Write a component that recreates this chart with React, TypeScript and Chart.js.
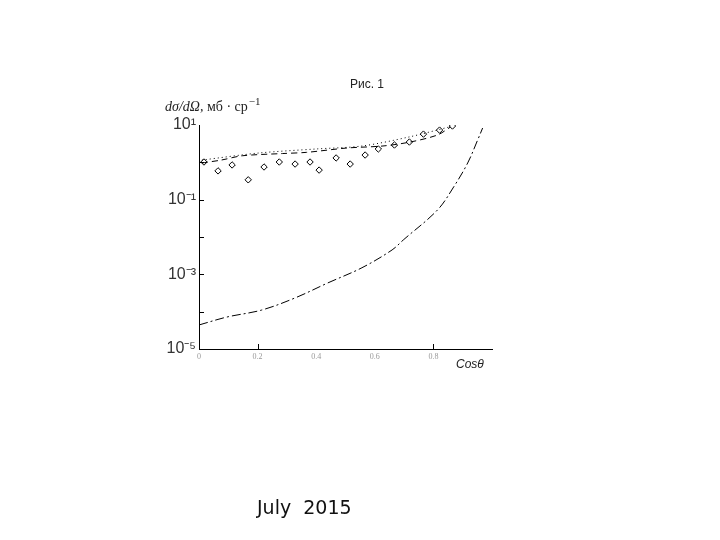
import React, { useEffect, useRef } from "react";
import { Chart, registerables } from "chart.js";

Chart.register(...registerables);

// Lower dash-dot curve
const lowerX = [0, 0.096, 0.213, 0.326, 0.44, 0.556, 0.659, 0.697, 0.814, 0.869, 0.917, 0.951, 0.968];
const lowerY = [4.4e-5, 7.2e-5, 1.1e-4, 2.3e-4, 5.9e-4, 1.5e-3, 4.5e-3, 8.3e-3, 0.053, 0.218, 0.96, 3.96, 8.3];

// Upper dotted curve
const dottedX = [0.01, 0.205, 0.4, 0.557, 0.718, 0.855];
const dottedY = [1.15, 1.78, 2.28, 2.74, 4.8, 8.9];

// Upper dashed curve
const dashedX = [0.01, 0.076, 0.148, 0.285, 0.367, 0.505, 0.628, 0.721, 0.814, 0.858];
const dashedY = [0.96, 1.15, 1.5, 1.72, 1.85, 2.42, 2.74, 3.5, 5.4, 8.8];

// Experimental points (diamonds)
const expX = [0.017, 0.065, 0.113, 0.168, 0.222, 0.274, 0.328, 0.379, 0.41, 0.468, 0.516, 0.567, 0.612, 0.667, 0.718, 0.766, 0.821, 0.865];
const expY = [1.02, 0.59, 0.85, 0.34, 0.75, 1.02, 0.9, 1.02, 0.62, 1.31, 0.9, 1.57, 2.28, 2.91, 3.5, 5.7, 7.3, 9.4];

const xTicks = [0, 0.2, 0.4, 0.6, 0.8];
const xTickLabels = ["0", "0.2", "0.4", "0.6", "0.8"];
const yExponents = [-5, -4, -3, -2, -1, 0, 1];
const yLabelExponents = [-5, -3, -1, 1];
const xMarkTicks = [0.2, 0.8];
const yMarkExponents = [-4, -3, -2, -1, 0];

const supMap: Record<string, string> = { "-": "⁻", "0": "⁰", "1": "¹", "2": "²", "3": "³", "4": "⁴", "5": "⁵" };
const sup = (n: number) => String(n).split("").map((c) => supMap[c] || c).join("");

const zip = (xs: number[], ys: number[]) => xs.map((x, i) => ({ x, y: ys[i] }));

const textPlugin = {
  id: "texts",
  afterDraw(chart: any) {
    const ctx = chart.ctx as CanvasRenderingContext2D;
    const xs = chart.scales.x;
    const ys = chart.scales.y;
    ctx.save();
    // tick marks inside
    ctx.strokeStyle = "#000";
    ctx.lineWidth = 1;
    ctx.beginPath();
    yMarkExponents.forEach((e) => {
      const py = Math.round(ys.getPixelForValue(Math.pow(10, e))) + 0.5;
      ctx.moveTo(xs.left, py);
      ctx.lineTo(xs.left + 5, py);
    });
    xMarkTicks.forEach((v) => {
      const px = Math.round(xs.getPixelForValue(v)) + 0.5;
      ctx.moveTo(px, ys.bottom);
      ctx.lineTo(px, ys.bottom - 5);
    });
    ctx.stroke();

    ctx.fillStyle = "#222";
    ctx.textBaseline = "alphabetic";
    // title
    ctx.font = "12px 'Liberation Sans'";
    ctx.textAlign = "center";
    ctx.fillText("Рис. 1", 367, 88);

    // y label
    ctx.textAlign = "left";
    let x = 165;
    ctx.font = "italic 14px 'Liberation Serif'";
    const p1 = "dσ/dΩ,";
    ctx.fillText(p1, x, 111);
    x += ctx.measureText(p1).width;
    ctx.font = "14px 'Liberation Serif'";
    const p2 = " мб · ср";
    ctx.fillText(p2, x, 111);
    x += ctx.measureText(p2).width;
    ctx.font = "11px 'Liberation Serif'";
    ctx.fillText("−1", x + 1, 105);

    // x axis title
    ctx.font = "italic 12px 'Liberation Sans'";
    ctx.fillText("Cosθ", 456, 368);

    // footer
    ctx.font = "19px 'DejaVu Sans'";
    ctx.fillStyle = "#111";
    ctx.fillText("July  2015", 257, 514);
    ctx.restore();
  },
};

export default function App() {
  const ref = useRef<HTMLCanvasElement | null>(null);
  useEffect(() => {
    if (!ref.current) return;
    const chart = new Chart(ref.current, {
      type: "scatter",
      data: {
        datasets: [
          {
            label: "lower",
            type: "line",
            data: zip(lowerX, lowerY),
            borderColor: "#000",
            borderWidth: 1,
            borderDash: [9, 3, 2, 3],
            pointRadius: 0,
            tension: 0.35,
            fill: false,
          },
          {
            label: "dotted",
            type: "line",
            data: zip(dottedX, dottedY),
            borderColor: "#000",
            borderWidth: 1,
            borderDash: [1, 3],
            pointRadius: 0,
            tension: 0.3,
            fill: false,
          },
          {
            label: "dashed",
            type: "line",
            data: zip(dashedX, dashedY),
            borderColor: "#000",
            borderWidth: 1,
            borderDash: [6, 4],
            pointRadius: 0,
            tension: 0.3,
            fill: false,
          },
          {
            label: "exp",
            data: zip(expX, expY),
            pointStyle: "rectRot",
            pointRadius: 3.2,
            pointBackgroundColor: "#fff",
            pointBorderColor: "#000",
            pointBorderWidth: 1,
            showLine: false,
          },
        ],
      },
      options: {
        animation: false,
        responsive: false,
        layout: { padding: { left: 0, top: 125, right: 228, bottom: 0 } },
        plugins: { legend: { display: false }, tooltip: { enabled: false }, title: { display: false } },
        scales: {
          x: {
            type: "linear",
            min: 0,
            max: 1,
            position: "bottom",
            afterBuildTicks: (s: any) => {
              s.ticks = xTicks.map((v) => ({ value: v }));
            },
            afterFit: (s: any) => {
              s.height = 191;
            },
            ticks: {
              autoSkip: false,
              maxRotation: 0,
              padding: 3,
              color: "#999",
              font: { size: 8, family: "'Liberation Serif'" },
              callback: (v: any) => {
                const i = xTicks.indexOf(Number(v));
                return i >= 0 ? xTickLabels[i] : "";
              },
            },
            grid: { drawOnChartArea: false, drawTicks: false },
            border: { display: true, color: "#000", width: 1 },
          },
          y: {
            type: "logarithmic",
            min: 1e-5,
            max: 10,
            afterBuildTicks: (s: any) => {
              s.ticks = yExponents.map((e) => ({ value: Math.pow(10, e) }));
            },
            afterFit: (s: any) => {
              s.width = 199;
            },
            ticks: {
              autoSkip: false,
              padding: 3,
              color: "#333",
              font: { size: 16, family: "'Liberation Sans'" },
              callback: (v: any) => {
                const e = Math.round(Math.log10(Number(v)));
                return yLabelExponents.includes(e) ? "10" + sup(e) : "";
              },
            },
            grid: { drawOnChartArea: false, drawTicks: false },
            border: { display: true, color: "#000", width: 1 },
          },
        },
      },
      plugins: [textPlugin],
    });
    return () => chart.destroy();
  }, []);
  return (
    <div style={{ position: "fixed", left: 0, top: 0, width: 720, height: 540, background: "#fff" }}>
      <canvas ref={ref} width={720} height={540} style={{ width: 720, height: 540 }} />
    </div>
  );
}
